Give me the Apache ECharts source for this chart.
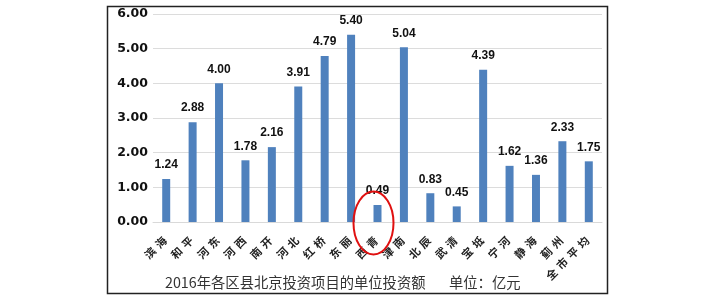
<!DOCTYPE html>
<html>
<head>
<meta charset="utf-8">
<script src="https://cdn.jsdelivr.net/npm/echarts@6/dist/echarts.min.js"></script>
<style>html,body{margin:0;padding:0;background:#fff}#c{width:718px;height:303px}</style>
</head>
<body>
<div id="c"></div>
<script>
var categories = ['滨海','和平','河东','河西','南开','河北','红桥','东丽','西青','津南','北辰','武清','宝坻','宁河','静海','蓟州','全市平均'];
var values = [1.24, 2.88, 4.00, 1.78, 2.16, 3.91, 4.79, 5.40, 0.49, 5.04, 0.83, 0.45, 4.39, 1.62, 1.36, 2.33, 1.75];
var yTicks = [0, 1, 2, 3, 4, 5, 6];
var titleText = '2016年各区县北京投资项目的单位投资额';
var unitText = '单位：亿元';
var highlighted = '西青';

var chart = echarts.init(document.getElementById('c'));
chart.setOption({
  animation: false,
  grid: {left: 153, right: 116, top: 14, bottom: 81},
  xAxis: {
    type: 'category',
    data: categories,
    axisLine: {show: true, lineStyle: {color: '#d9d9d9'}},
    axisTick: {show: false},
    axisLabel: {
      interval: 0, rotate: 45, margin: 15,
      formatter: function (v) { return v.split('').map(function (ch) { return '{c|' + ch + '}'; }).join(''); },
      rich: {c: {fontFamily: 'Noto Sans CJK SC', fontWeight: 'bold', fontSize: 11, color: '#222', padding: [0, 2, 0, 2]}}
    }
  },
  yAxis: {
    type: 'value', min: yTicks[0], max: yTicks[yTicks.length - 1], interval: 1,
    axisLine: {show: false}, axisTick: {show: false},
    splitLine: {lineStyle: {color: '#dcdcdc'}},
    axisLabel: {formatter: function (v) { return v.toFixed(2); }, fontFamily: 'DejaVu Sans', fontWeight: 'bold', fontSize: 12.5, color: '#111', margin: 5}
  },
  series: [{
    type: 'bar', data: values, barWidth: 8,
    itemStyle: {color: '#4f81bd'},
    label: {show: true, position: 'top', distance: 8, formatter: function (p) { return p.value.toFixed(2); },
      fontFamily: 'Liberation Sans', fontWeight: 'bold', fontSize: 12, color: '#111'}
  }]
});

var idx = categories.indexOf(highlighted);
var p0 = chart.convertToPixel({xAxisIndex: 0, yAxisIndex: 0}, [idx, 0]);
chart.setOption({
  graphic: [
    {type: 'rect', shape: {x: 107.5, y: 6.5, width: 500, height: 287}, style: {fill: 'none', stroke: '#222', lineWidth: 1.5}, silent: true},
    {type: 'ellipse', shape: {cx: p0[0] - 4, cy: p0[1] + 1, rx: 20, ry: 31.5}, style: {fill: 'none', stroke: '#e01010', lineWidth: 2}, z: 100},
    {type: 'text', left: 165, top: 275, style: {text: titleText, fontFamily: 'Noto Sans CJK SC', fontSize: 14.3, fill: '#333'}},
    {type: 'text', left: 449, top: 275, style: {text: unitText, fontFamily: 'Noto Sans CJK SC', fontSize: 14.3, fill: '#333'}}
  ]
});
</script>
</body>
</html>
